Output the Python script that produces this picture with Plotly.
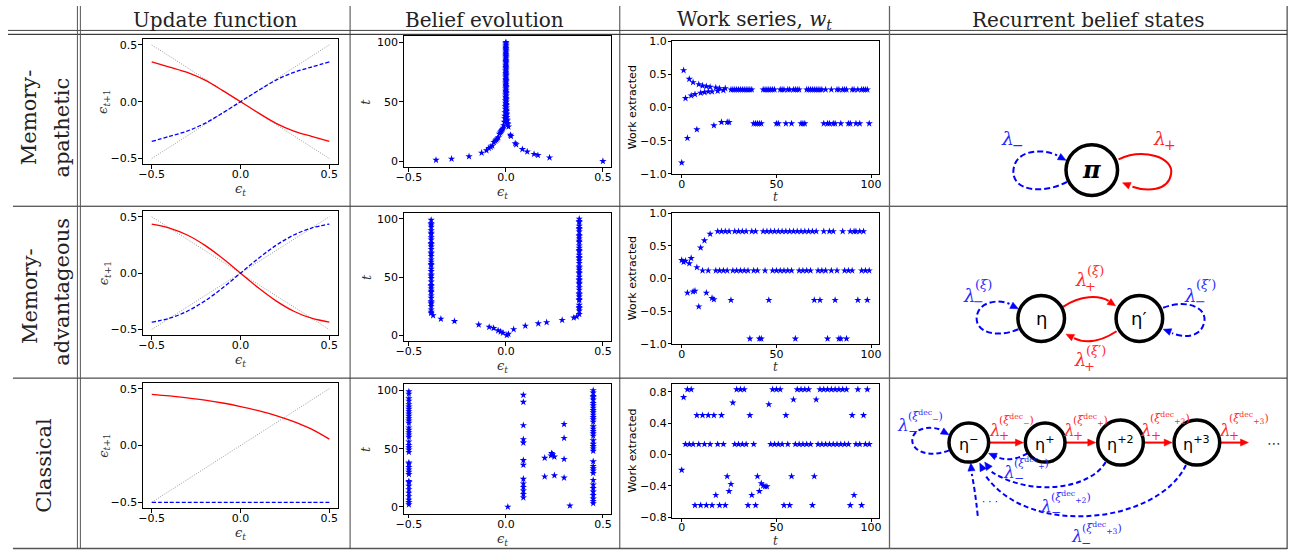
import math
import plotly.graph_objects as go

W, H = 1303, 558

# ---------------- data ----------------
eps_grid = [-0.5, -0.4, -0.3, -0.2, -0.1, 0.0, 0.1, 0.2, 0.3, 0.4, 0.5]
apathetic_plus = [0.35, 0.305, 0.258, 0.19, 0.098, 0.0, -0.098, -0.19, -0.258, -0.305, -0.35]
apathetic_minus = [-0.35, -0.305, -0.258, -0.19, -0.098, 0.0, 0.098, 0.19, 0.258, 0.305, 0.35]
advantageous_plus = [0.435, 0.40, 0.338, 0.246, 0.13, 0.0, -0.13, -0.246, -0.338, -0.40, -0.435]
advantageous_minus = [-0.435, -0.40, -0.338, -0.246, -0.13, 0.0, 0.13, 0.246, 0.338, 0.40, 0.435]
classical_plus = [0.45, 0.436, 0.419, 0.399, 0.374, 0.343, 0.307, 0.264, 0.211, 0.144, 0.056]
classical_minus = [-0.5, -0.5, -0.5, -0.5, -0.5, -0.5, -0.5, -0.5, -0.5, -0.5, -0.5]
diag_x = [-0.5, 0.5]
diag_up = [-0.5, 0.5]
diag_down = [0.5, -0.5]

t_belief = list(range(101))
t_work = list(range(100))

belief_apathetic = [
    0.50, -0.36, -0.28, 0.225, -0.19, 0.165, 0.145, -0.125, 0.11, -0.10,
    0.085, -0.088, -0.078, -0.07, 0.053, 0.048, -0.062, -0.055, -0.049, -0.044,
    -0.039, 0.026, 0.023, -0.034, -0.029, -0.025, -0.021, -0.018, -0.015, 0.013,
    -0.011, 0.010, 0.009, -0.008, 0.007, 0.006, -0.006, 0.005, -0.005, 0.004,
    0.004, -0.004, 0.003, 0.003, -0.003, 0.003, -0.003, 0.002, 0.002, -0.002,
    0.002, -0.002, 0.002, 0.0015, -0.0015, 0.0015, -0.0015, 0.001, 0.001, -0.001,
    0.001, -0.001, 0.001, 0.001, -0.001, 0.001, -0.001, 0.0008, 0.0008, -0.0008,
    0.0008, -0.0008, 0.0007, 0.0007, -0.0007, 0.0007, -0.0007, 0.0006, 0.0006, -0.0006,
    0.0006, -0.0006, 0.0005, 0.0005, -0.0005, 0.0005, -0.0005, 0.0005, 0.0004, -0.0004,
    0.0004, -0.0004, 0.0004, 0.0004, -0.0004, 0.0003, -0.0003, 0.0003, 0.0003, -0.0003,
    0.0003]

belief_advantageous = [
    0.005, 0.013, -0.015, -0.027, -0.04, 0.04, -0.063, -0.086, 0.10, -0.14,
    0.167, 0.21, -0.265, 0.29, -0.335, 0.35, 0.365, -0.375,
    0.378, -0.385, -0.385, 0.378, -0.385, 0.378, 0.378, -0.385, 0.378, -0.385,
    -0.385, -0.385, 0.378, 0.378, -0.385, 0.378, -0.385, 0.378, 0.378, -0.385,
    -0.385, 0.378, -0.385, 0.378, -0.385, -0.385, 0.378, 0.378, -0.385, 0.378,
    0.378, -0.385, 0.378, -0.385, -0.385, 0.378, 0.378, -0.385, 0.378, -0.385,
    0.378, 0.378, -0.385, -0.385, 0.378, -0.385, 0.378, -0.385, 0.378, 0.378,
    -0.385, 0.378, -0.385, -0.385, 0.378, 0.378, -0.385, 0.378, -0.385, 0.378,
    -0.385, -0.385, 0.378, 0.378, -0.385, 0.378, -0.385, 0.378, 0.378, -0.385,
    -0.385, 0.378, -0.385, 0.378, 0.378, -0.385, 0.378, -0.385, -0.385, 0.378,
    0.378, -0.385, 0.378]

belief_classical = [
    0.01, 0.33, -0.5, 0.45, -0.5, 0.45, -0.5, 0.45, 0.09, -0.5,
    0.45, 0.09, -0.5, 0.45, 0.09, -0.5, 0.45, 0.09, -0.5, 0.45,
    0.09, -0.5, -0.5, 0.45, 0.09, 0.30, 0.20, 0.25, -0.5, 0.45,
    -0.5, 0.45, -0.5, 0.45, -0.5, 0.45, 0.09, -0.5, -0.5, 0.45,
    0.09, 0.30, 0.20, 0.25, 0.232, 0.24, 0.236, -0.5, 0.45, -0.5,
    0.45, -0.5, 0.45, -0.5, 0.45, 0.09, -0.5, 0.45, 0.09, 0.30,
    -0.5, 0.45, -0.5, 0.45, -0.5, 0.45, -0.5, 0.45, -0.5, 0.45,
    0.09, 0.30, -0.5, 0.45, -0.5, 0.45, -0.5, 0.45, -0.5, 0.45,
    -0.5, 0.45, -0.5, 0.45, -0.5, 0.45, -0.5, 0.45, -0.5, 0.45,
    0.09, -0.5, 0.45, -0.5, 0.45, 0.45, 0.09, -0.5, 0.45, -0.5,
    0.45]

work_apathetic = [
    -0.83, 0.56, 0.14, -0.46, 0.43, 0.18, 0.38, 0.20, -0.33, 0.35,
    0.22, 0.33, 0.23, 0.32, 0.24, 0.31, 0.24, -0.27, 0.30, 0.25,
    0.29, -0.22, 0.26, 0.29, -0.22, -0.22, 0.27, 0.27, 0.27, 0.27,
    0.27, 0.27, 0.27, 0.27, 0.27, 0.27, 0.27, 0.27, -0.24, -0.24,
    -0.24, -0.24, -0.24, 0.27, 0.27, 0.27, 0.27, 0.27, 0.27, 0.27,
    -0.24, -0.24, 0.27, 0.27, 0.27, -0.24, 0.27, 0.27, -0.24, 0.27,
    0.27, 0.27, 0.27, -0.24, -0.24, -0.24, 0.27, 0.27, 0.27, 0.27,
    0.27, 0.27, 0.27, 0.27, 0.27, -0.24, 0.27, -0.24, -0.24, 0.27,
    -0.24, -0.24, 0.27, 0.27, -0.24, 0.27, 0.27, 0.27, -0.24, -0.24,
    0.27, 0.27, -0.24, 0.27, -0.24, 0.27, 0.27, 0.27, 0.27, -0.24]

work_advantageous = [
    0.28, 0.25, 0.27, -0.22, 0.23, 0.31, -0.20, -0.19, 0.17, -0.43,
    0.47, 0.12, 0.58, -0.22, 0.12, 0.68, -0.30, -0.32, 0.12, 0.72,
    0.12, 0.72, 0.12, 0.72, 0.12, 0.72, -0.33, 0.12, 0.72, 0.12,
    0.72, 0.12, 0.72, 0.12, 0.72, 0.12, -0.92, 0.72, 0.12, 0.72,
    0.12, -0.92, -0.92, 0.72, 0.12, 0.72, -0.33, 0.72, 0.12, 0.72,
    0.12, 0.72, 0.12, 0.72, 0.12, 0.72, 0.12, 0.72, 0.12, 0.72,
    -0.92, 0.72, 0.12, 0.72, 0.12, 0.72, 0.12, 0.72, 0.12, 0.72,
    -0.33, 0.72, 0.12, -0.33, 0.12, 0.72, 0.12, -0.92, 0.72, 0.12,
    0.72, -0.33, 0.12, -0.92, -0.92, 0.72, 0.12, -0.92, 0.12, 0.72,
    0.12, 0.72, 0.72, -0.33, 0.72, 0.12, 0.72, 0.12, -0.33, 0.12]

work_classical = [
    -0.20, 0.73, 0.13, 0.83, 0.13, 0.83, 0.13, -0.65, 0.50, 0.13,
    -0.65, 0.50, 0.13, -0.65, 0.50, 0.13, -0.65, 0.50, -0.52, 0.13,
    -0.65, 0.50, 0.13, -0.65, -0.28, -0.47, -0.38, 0.66, 0.13, 0.83,
    0.13, 0.83, 0.13, 0.83, 0.13, -0.65, 0.50, -0.52, 0.13, -0.65,
    -0.28, -0.47, -0.37, -0.40, -0.41, -0.41, 0.64, 0.13, 0.83, 0.13,
    0.83, 0.13, 0.83, 0.13, -0.65, 0.50, 0.13, -0.65, -0.28, 0.70,
    0.13, 0.83, 0.13, 0.83, 0.13, 0.83, 0.13, 0.83, 0.13, -0.65,
    -0.28, 0.70, 0.13, 0.83, 0.13, 0.83, 0.13, 0.83, 0.13, 0.83,
    0.13, 0.83, 0.13, 0.83, 0.13, 0.83, 0.13, 0.83, 0.13, -0.65,
    0.50, -0.52, 0.13, 0.83, 0.13, -0.65, 0.50, 0.13, 0.83, 0.13]

col_titles = ["Update function", "Belief evolution",
              "Work series, <i>w</i><sub><i>t</i></sub>", "Recurrent belief states"]

# ---------------- layout geometry (pixels) ----------------
upd_box = [(136, 333, 34, 162), (136, 333, 210, 337), (136, 333, 386, 514)]
bel_box = [(399, 608, 31, 165), (399, 608, 212, 343), (399, 608, 387, 520)]
wrk_box = [(670, 878, 36, 172), (670, 878, 212, 346), (670, 878, 387, 524)]

RED, BLUE = "#ff0000", "#0000ff"
LRED, LBLUE = "#ff2a2a", "#2a2aff"

fig = go.Figure()


def axn(k):
    return ("x", "y") if k == 1 else (f"x{k}", f"y{k}")


upd_plus = [apathetic_plus, advantageous_plus, classical_plus]
upd_minus = [apathetic_minus, advantageous_minus, classical_minus]
beliefs = [belief_apathetic, belief_advantageous, belief_classical]
works = [work_apathetic, work_advantageous, work_classical]

star = dict(symbol="star", size=5.5, color=BLUE, line=dict(width=0))
for r in range(3):
    xa, ya = axn(r * 3 + 1)
    fig.add_trace(go.Scatter(x=diag_x, y=diag_up, mode="lines", xaxis=xa, yaxis=ya,
                             line=dict(color="#9a9a9a", width=1, dash="1px,1.5px")))
    if r < 2:
        fig.add_trace(go.Scatter(x=diag_x, y=diag_down, mode="lines", xaxis=xa, yaxis=ya,
                                 line=dict(color="#9a9a9a", width=1, dash="1px,1.5px")))
    fig.add_trace(go.Scatter(x=eps_grid, y=upd_plus[r], mode="lines", xaxis=xa, yaxis=ya,
                             line=dict(color=RED, width=1.3, shape="spline")))
    fig.add_trace(go.Scatter(x=eps_grid, y=upd_minus[r], mode="lines", xaxis=xa, yaxis=ya,
                             line=dict(color=BLUE, width=1.3, dash="4px,2px", shape="spline")))
    xa, ya = axn(r * 3 + 2)
    fig.add_trace(go.Scatter(x=beliefs[r], y=t_belief, mode="markers", xaxis=xa, yaxis=ya,
                             marker=star))
    xa, ya = axn(r * 3 + 3)
    fig.add_trace(go.Scatter(x=t_work, y=works[r], mode="markers", xaxis=xa, yaxis=ya,
                             marker=star))

tickfont = dict(family="DejaVu Sans", size=11, color="black")
axes = {}
for r in range(3):
    specs = [
        (upd_box[r], [-0.55, 0.55], [-0.5, 0, 0.5], ".1f", [-0.55, 0.55], [-0.5, 0, 0.5], ".1f"),
        (bel_box[r], [-0.527, 0.541], [-0.5, 0, 0.5], ".1f",
         [-5, 105] if r < 2 else [-6, 105.5], [0, 50, 100], "d"),
        (wrk_box[r], [-4.95, 103.95], [0, 50, 100], "d",
         [-1, 1] if r < 2 else [-0.81, 0.9],
         [-1, -0.5, 0, 0.5, 1] if r < 2 else [-0.8, -0.4, 0, 0.4, 0.8], ".1f"),
    ]
    for c, (box, xr, xt, xf, yr, yt, yf) in enumerate(specs):
        k = r * 3 + c + 1
        x0, x1, y0, y1 = box
        common = dict(showline=True, mirror=True, linecolor="black", linewidth=1,
                      ticks="outside", ticklen=3.5, tickwidth=1, tickcolor="black",
                      showgrid=False, zeroline=False, tickfont=tickfont, fixedrange=True)
        xk = "xaxis" if k == 1 else f"xaxis{k}"
        yk = "yaxis" if k == 1 else f"yaxis{k}"
        axes[xk] = dict(domain=[x0 / W, x1 / W], range=xr, tickvals=xt, tickformat=xf,
                        anchor=axn(k)[1], ticklabelstandoff=-4, **common)
        axes[yk] = dict(domain=[1 - y1 / H, 1 - y0 / H], range=yr, tickvals=yt, tickformat=yf,
                        anchor=axn(k)[0], ticklabelstandoff=-1, **common)

shapes = []
annotations = []


def P(x, y):
    return f"{x / W:.5f},{1 - y / H:.5f}"


def hline(y, x0, x1, color="#333", width=1.0):
    shapes.append(dict(type="line", xref="paper", yref="paper", x0=x0 / W, x1=x1 / W,
                       y0=1 - y / H, y1=1 - y / H, line=dict(color=color, width=width)))


def vline(x, y0, y1, color="#333", width=1.0):
    shapes.append(dict(type="line", xref="paper", yref="paper", x0=x / W, x1=x / W,
                       y0=1 - y0 / H, y1=1 - y1 / H, line=dict(color=color, width=width)))


def curve(pts, color, dash=None, width=2.0):
    d = "M " + P(*pts[0])
    rest = pts[1:]
    for i in range(0, len(rest), 3):
        d += " C " + " ".join(P(*q) for q in rest[i:i + 3])
    shapes.append(dict(type="path", xref="paper", yref="paper", path=d,
                       line=dict(color=color, width=width, dash=dash)))


def head(tip, frm, color, L=8.0, hw=3.6):
    dx, dy = tip[0] - frm[0], tip[1] - frm[1]
    n = math.hypot(dx, dy)
    ux, uy = dx / n, dy / n
    bx, by = tip[0] - ux * L, tip[1] - uy * L
    p1 = (bx - uy * hw, by + ux * hw)
    p2 = (bx + uy * hw, by - ux * hw)
    d = f"M {P(*tip)} L {P(*p1)} L {P(*p2)} Z"
    shapes.append(dict(type="path", xref="paper", yref="paper", path=d, fillcolor=color,
                       line=dict(color=color, width=0.5)))


def node(cx, cy, rad, lw=3.5):
    shapes.append(dict(type="circle", xref="paper", yref="paper",
                       x0=(cx - rad) / W, x1=(cx + rad) / W,
                       y0=1 - (cy + rad) / H, y1=1 - (cy - rad) / H,
                       line=dict(color="black", width=lw), fillcolor="white"))


def txt(x, y, s, size, color="black", family="DejaVu Serif", angle=0,
        xanchor="center", yanchor="middle"):
    annotations.append(dict(x=x / W, y=1 - y / H, xref="paper", yref="paper", text=s,
                            showarrow=False, textangle=angle, xanchor=xanchor, yanchor=yanchor,
                            font=dict(size=size, color=color, family=family), borderpad=0))


def lam(cx, cy, sub, sup, color, size=18, ssize=12, supx=None, supy=None, subsize=None):
    txt(cx, cy, "<i>λ</i>", size, color)
    txt(cx + 0.2 * size, cy + 0.38 * size, sub, subsize or ssize, color, xanchor="left")
    if sup:
        sx = cx + 0.25 * size if supx is None else supx
        sy = cy - 0.45 * size if supy is None else supy
        txt(sx, sy, sup, ssize, color, xanchor="left")


# ---------------- table rules ----------------
hline(25, 0, 1290, "#444")
hline(29, 0, 1290, "#111")
hline(205, 5, 1290, "#222")
hline(381, 5, 1290, "#222")
hline(555.5, 5, 1290, "#555", 1.6)
vline(70, 0, 556, "#555")
vline(73, 0, 556, "#555")
vline(345, 0, 556, "#444")
vline(617, 0, 556, "#444")
vline(889, 0, 556, "#666", 1.3)
vline(1290, 0, 556, "#222")

# ---------------- headers / row labels ----------------
hdr_x = [209, 481, 753, 1090]
for hx, s in zip(hdr_x, col_titles):
    txt(hx, 14, s, 20, "#222")

txt(22, 114, "Memory-", 21, "#222", angle=-90)
txt(55, 125, "apathetic", 21, "#222", angle=-90)
txt(22, 297, "Memory-", 21, "#222", angle=-90)
txt(55, 293, "advantageous", 21, "#222", angle=-90)
txt(36, 470, "Classical", 21, "#222", angle=-90)

# ---------------- axis titles ----------------
eps_t = "<i>ϵ</i><sub><i>t</i></sub>"
eps_t1 = "<i>ϵ</i><sub><i>t</i>+1</sub>"
for r in range(3):
    x0, x1, y0, y1 = upd_box[r]
    txt((x0 + x1) / 2, y1 + 26, eps_t, 13, "#333")
    txt(97, (y0 + y1) / 2, eps_t1, 13, "#333", angle=-90)
    x0, x1, y0, y1 = bel_box[r]
    txt((x0 + x1) / 2 - 5, y1 + 26, eps_t, 13, "#333")
    txt(361, (y0 + y1) / 2, "<i>t</i>", 13, "#333", angle=-90)
    x0, x1, y0, y1 = wrk_box[r]
    txt((x0 + x1) / 2, y1 + 24, "<i>t</i>", 12, "#333")
    txt(630, (y0 + y1) / 2, "Work extracted", 11, "black", family="DejaVu Sans", angle=-90)

# ---------------- diagram row 1 ----------------
curve([(1068, 180), (1045, 193), (1012, 190), (1014, 168), (1016, 146), (1045, 146), (1058, 153)],
      BLUE, "6px,3px")
head((1067, 158), (1056, 152), BLUE)
curve([(1120, 157), (1145, 145), (1176, 155), (1173, 172), (1170, 190), (1148, 190), (1134, 185)], RED)
head((1124, 181), (1136, 186), RED)
node(1093, 168, 26)
txt(1093, 167, "<b><i>π</i></b>", 24, "black")
lam(1008, 135, "−", None, LBLUE, 19, 14)
lam(1161, 135, "+", None, LRED, 19, 14)

# ---------------- diagram row 2 ----------------
curve([(1064, 308), (1082, 296), (1100, 296), (1110, 302)], RED)
head((1117, 307), (1108, 301), RED)
curve([(1118, 333), (1100, 345), (1085, 345), (1075, 340)], RED)
head((1067, 336), (1077, 341), RED)
curve([(1019, 331), (995, 341), (975, 333), (977, 318), (979, 302), (1000, 300), (1010, 305)],
      BLUE, "6px,3px")
head((1019, 310), (1009, 305), BLUE)
curve([(1165, 309), (1190, 299), (1211, 310), (1206, 325), (1202, 341), (1183, 339), (1174, 335)],
      BLUE, "6px,3px")
head((1165, 331), (1176, 335), BLUE)
node(1042, 320, 23.5)
node(1141, 320, 23.5)
txt(1042, 320, "η", 18, "black", family="DejaVu Sans")
txt(1141, 320, "η′", 18, "black", family="DejaVu Sans")
lam(969, 296, "−", "(<i>ξ</i>)", LBLUE, 18, 13, supx=974, supy=285)
lam(1082, 280, "+", "(<i>ξ</i>)", LRED, 18, 13, supx=1087, supy=271)
lam(1192, 296, "−", "(<i>ξ</i>′)", LBLUE, 18, 13, supx=1197, supy=285)
lam(1081, 362, "+", "(<i>ξ</i>′)", LRED, 18, 13, supx=1086, supy=353)

# ---------------- diagram row 3 ----------------
for (xs, xe) in [(990, 1024), (1067, 1097), (1146, 1174), (1223, 1251)]:
    shapes.append(dict(type="line", xref="paper", yref="paper", x0=xs / W, x1=(xe - 5) / W,
                       y0=1 - 447 / H, y1=1 - 447 / H, line=dict(color=RED, width=2)))
    head((xe, 447), (xe - 10, 447), RED)
txt(1277, 447, "⋯", 14, "#333", family="DejaVu Sans")

curve([(949, 455), (930, 463), (911, 456), (912, 444), (913, 431), (932, 430), (941, 434)],
      BLUE, "5px,3px")
head((949, 439), (940, 434), BLUE)
curve([(1028, 458), (1015, 466), (1003, 465), (996, 461)], BLUE, "5px,3px")
head((989, 458), (998, 462), BLUE)
curve([(1107, 467), (1090, 496), (1030, 502), (992, 477)], BLUE, "5px,3px")
head((985, 467), (993, 478), BLUE)
curve([(1188, 470), (1160, 530), (1030, 545), (986, 481)], BLUE, "5px,3px")
head((980, 468), (987, 482), BLUE)
curve([(978, 522), (976, 502), (974, 490), (972, 479)], BLUE, "5px,3px")
head((971, 468), (972, 480), BLUE)
txt(990, 507, "· · ·", 10, BLUE, family="DejaVu Sans")

node(969, 447, 20)
node(1046, 447, 20)
node(1122, 447, 23)
node(1199, 447, 23)
txt(969, 448, "η<sup>−</sup>", 16, "black", family="DejaVu Sans")
txt(1046, 448, "η<sup>+</sup>", 16, "black", family="DejaVu Sans")
txt(1122, 448, "η<sup>+2</sup>", 16, "black", family="DejaVu Sans")
txt(1199, 448, "η<sup>+3</sup>", 16, "black", family="DejaVu Sans")

dec_m = "(<i>ξ</i><sup>dec</sup><sub>−</sub>)"
dec_p = "(<i>ξ</i><sup>dec</sup><sub>+</sub>)"
dec_p2 = "(<i>ξ</i><sup>dec</sup><sub>+2</sub>)"
dec_p3 = "(<i>ξ</i><sup>dec</sup><sub>+3</sub>)"
lam(903, 429, "−", dec_m, LBLUE, 17, 11, supx=907, supy=420, subsize=12)
lam(995, 434, "+", dec_m, LRED, 17, 11, supx=998, supy=424, subsize=12)
lam(1070, 434, "+", dec_p, LRED, 17, 11, supx=1073, supy=424, subsize=12)
lam(1148, 434, "+", dec_p2, LRED, 17, 11, supx=1151, supy=422, subsize=12)
lam(1227, 434, "+", dec_p3, LRED, 17, 11, supx=1230, supy=422, subsize=12)
lam(1010, 477, "−", dec_p, LBLUE, 17, 11, supx=1014, supy=468, subsize=12)
lam(1047, 512, "−", dec_p2, LBLUE, 17, 11, supx=1051, supy=503, subsize=12)
lam(1078, 543, "−", dec_p3, LBLUE, 17, 11, supx=1082, supy=534, subsize=12)

fig.update_layout(
    width=W, height=H, margin=dict(l=0, r=0, t=0, b=0),
    paper_bgcolor="white", plot_bgcolor="white", showlegend=False,
    shapes=shapes, annotations=annotations, **axes,
)

fig.write_html("out.html", config={"displayModeBar": False})
